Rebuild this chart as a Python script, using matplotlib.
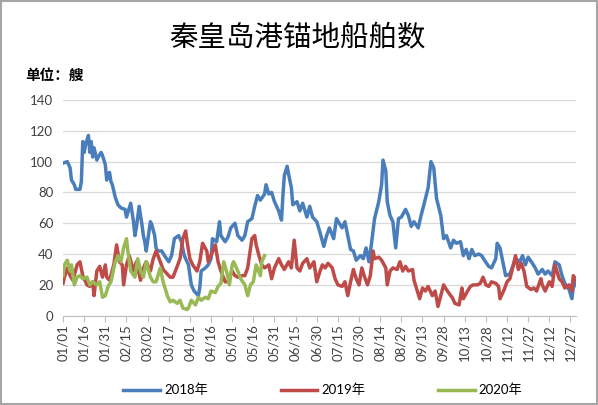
import matplotlib

matplotlib.use("Agg")
import matplotlib.pyplot as plt
from matplotlib.patches import Rectangle

plt.rcParams["font.family"] = ["Lato", "Noto Sans CJK SC", "DejaVu Sans"]

# (day-of-year index, 0 = 01/01; ship count)
ships_2018 = [
    (0, 99), (3, 100), (5, 96), (6, 88), (8, 85), (9, 82), (12, 82), (13, 87),
    (14, 113), (15, 106), (16, 111), (18, 117), (19, 106), (20, 113), (21, 103),
    (22, 109), (24, 101), (25, 103), (27, 106), (28, 104), (30, 98), (31, 88),
    (32, 92), (33, 93), (34, 87), (35, 85), (37, 77), (39, 72), (41, 70),
    (44, 69), (45, 64), (47, 70), (48, 73), (50, 61), (51, 52), (52, 57),
    (54, 71), (56, 59), (57, 52), (58, 48), (59, 42), (62, 61), (63, 59),
    (65, 52), (66, 44), (67, 42), (70, 42), (72, 39), (75, 35), (77, 39),
    (79, 50), (82, 52), (84, 48), (86, 39), (89, 33), (91, 20), (93, 16),
    (96, 13), (97, 18), (98, 29), (101, 31), (103, 33), (105, 37), (106, 50),
    (109, 48), (111, 61), (112, 52), (115, 48), (117, 51), (119, 57), (122, 60),
    (124, 52), (127, 49), (129, 52), (131, 61), (134, 63), (136, 71), (138, 78),
    (140, 75), (143, 79), (144, 85), (146, 79), (148, 80), (150, 74), (153, 68),
    (155, 62), (156, 78), (157, 91), (159, 97), (160, 92), (162, 83), (163, 72),
    (166, 74), (168, 68), (170, 73), (173, 64), (175, 71), (177, 64), (180, 61),
    (182, 55), (185, 45), (187, 52), (189, 57), (192, 50), (194, 63), (196, 60),
    (198, 57), (200, 61), (202, 52), (204, 43), (206, 42), (208, 36), (211, 39),
    (213, 37), (215, 44), (217, 35), (219, 48), (221, 63), (224, 74), (226, 85),
    (227, 101), (229, 94), (230, 74), (232, 65), (234, 61), (236, 44), (238, 63),
    (240, 64), (243, 69), (245, 65), (247, 58), (249, 61), (252, 57), (254, 65),
    (256, 72), (259, 83), (261, 100), (263, 96), (265, 76), (268, 65), (270, 50),
    (272, 52), (275, 44), (277, 49), (279, 47), (282, 48), (284, 39), (286, 43),
    (288, 37), (290, 43), (292, 39), (295, 40), (297, 39), (299, 36), (302, 32),
    (304, 31), (307, 37), (308, 47), (310, 44), (312, 35), (314, 26), (317, 27),
    (319, 32), (321, 37), (324, 35), (326, 39), (328, 33), (330, 38), (333, 34),
    (335, 31), (337, 27), (340, 30), (342, 27), (344, 29), (347, 26), (349, 35),
    (352, 33), (354, 26), (356, 21), (359, 17), (361, 11), (362, 18), (364, 22),
]
ships_2019 = [
    (0, 21), (1, 25), (3, 31), (5, 26), (7, 23), (10, 33), (12, 35), (14, 26),
    (17, 20), (19, 19), (21, 22), (22, 13), (24, 29), (26, 32), (28, 25),
    (30, 33), (31, 25), (33, 23), (36, 33), (38, 46), (40, 35), (42, 33),
    (43, 20), (45, 33), (47, 39), (50, 29), (52, 35), (55, 23), (57, 31),
    (59, 35), (62, 29), (64, 37), (66, 42), (69, 35), (71, 30), (74, 27),
    (76, 25), (78, 25), (81, 32), (83, 37), (85, 50), (87, 55), (88, 48),
    (90, 37), (92, 33), (95, 29), (97, 35), (99, 47), (102, 42), (103, 35),
    (105, 39), (108, 46), (110, 35), (112, 29), (115, 22), (117, 22), (120, 29),
    (122, 26), (124, 25), (127, 26), (129, 26), (131, 31), (134, 50), (136, 52),
    (137, 46), (139, 39), (141, 33), (143, 31), (146, 33), (148, 24), (150, 31),
    (153, 37), (155, 33), (157, 30), (160, 35), (162, 31), (164, 49), (166, 31),
    (168, 29), (170, 34), (173, 37), (175, 31), (178, 35), (180, 22), (182, 28),
    (184, 33), (186, 31), (188, 34), (191, 31), (193, 24), (195, 20), (198, 19),
    (200, 22), (202, 13), (204, 22), (206, 30), (208, 24), (210, 20), (212, 31),
    (214, 25), (216, 20), (218, 26), (220, 42), (221, 37), (224, 38), (226, 36),
    (229, 31), (230, 20), (232, 29), (234, 31), (237, 30), (239, 35), (241, 29),
    (243, 32), (245, 29), (248, 30), (249, 23), (251, 17), (253, 11), (255, 18),
    (257, 16), (259, 19), (262, 13), (264, 16), (266, 6), (268, 13), (270, 20),
    (272, 17), (275, 13), (276, 12), (278, 8), (281, 7), (283, 18), (284, 11),
    (287, 16), (289, 19), (291, 20), (294, 20), (296, 21), (298, 25), (300, 20),
    (302, 19), (304, 22), (307, 21), (309, 19), (310, 11), (313, 17), (315, 22),
    (317, 24), (319, 31), (321, 39), (323, 30), (325, 34), (327, 29), (329, 19),
    (332, 17), (334, 18), (336, 16), (339, 24), (340, 20), (342, 16), (345, 22),
    (347, 19), (349, 33), (352, 24), (354, 22), (356, 18), (359, 20), (361, 16),
    (362, 26), (364, 23),
]
ships_2020 = [
    (0, 26), (1, 33), (3, 36), (5, 29), (6, 33), (8, 20), (10, 25), (12, 26),
    (14, 24), (17, 25), (19, 20), (21, 22), (24, 20), (26, 22), (28, 12),
    (30, 13), (32, 19), (34, 22), (37, 35), (39, 39), (41, 35), (43, 44),
    (45, 50), (46, 42), (48, 29), (51, 25), (53, 37), (55, 29), (57, 25),
    (59, 35), (62, 25), (64, 22), (66, 22), (69, 31), (71, 22), (74, 13),
    (76, 9), (78, 10), (81, 8), (83, 10), (85, 5), (88, 4), (89, 5), (91, 10),
    (94, 7), (96, 12), (98, 10), (101, 12), (103, 11), (105, 16), (108, 15),
    (110, 19), (112, 21), (114, 35), (116, 29), (118, 20), (120, 33), (121, 35),
    (124, 29), (126, 24), (129, 20), (131, 13), (133, 20), (135, 22), (137, 33),
    (140, 26), (141, 35), (143, 39),
]

tick_days = list(range(0, 361, 15))
tick_labels = ["01/01", "01/16", "01/31", "02/15", "03/02", "03/17", "04/01",
               "04/16", "05/01", "05/16", "05/31", "06/15", "06/30", "07/15",
               "07/30", "08/14", "08/29", "09/13", "09/28", "10/13", "10/28",
               "11/12", "11/27", "12/12", "12/27"]

series = [
    ("2018年", ships_2018, "#4a7ebb"),
    ("2019年", ships_2019, "#be4b48"),
    ("2020年", ships_2020, "#98b954"),
]

fig = plt.figure(figsize=(5.98, 4.05), dpi=100)
fig.patches.append(Rectangle((0.002, 0.003), 0.996, 0.994, transform=fig.transFigure,
                             fill=False, edgecolor="#a6a6a6", lw=1.5))
ax = fig.add_axes([0.1054, 0.2205, 0.858, 0.5326])

for label, pts, color in series:
    x, y = zip(*pts)
    ax.plot(x, y, color=color, lw=2.5, label=label)

ax.set_xlim(0, 364)
ax.set_ylim(0, 140)
ax.set_yticks(range(0, 141, 20))
ax.set_xticks(tick_days)
ax.set_xticklabels(tick_labels, rotation=90, fontsize=9.5, color="#404040")
ax.tick_params(axis="y", length=0, labelsize=9.5, labelcolor="#404040", pad=7)
ax.tick_params(axis="x", length=4, color="#bfbfbf", pad=2)
ax.grid(axis="y", color="#d9d9d9", lw=0.9)
ax.set_axisbelow(True)
for side in ["top", "right", "left"]:
    ax.spines[side].set_visible(False)
ax.spines["bottom"].set_color("#bfbfbf")

fig.text(0.497, 0.905, "秦皇岛港锚地船舶数", ha="center", va="center",
         fontsize=20.5, family=["Noto Sans CJK SC"])
fig.text(0.042, 0.815, "单位：艘", ha="left", va="center", fontsize=10.5,
         fontweight="bold", family=["Noto Sans CJK SC"])

fig.legend(loc="center", bbox_to_anchor=(0.54, 0.037), ncol=3, frameon=False,
           handlelength=2.8, columnspacing=5.5, handletextpad=0.3,
           prop={"family": ["Lato", "Noto Sans CJK SC"], "size": 9.5})

fig.savefig("out.png", dpi=100)
